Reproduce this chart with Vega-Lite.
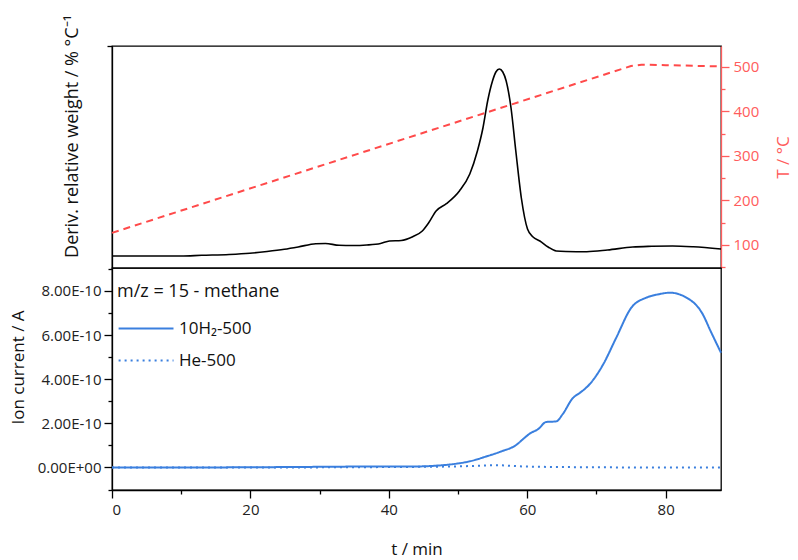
{
  "$schema": "https://vega.github.io/schema/vega-lite/v6.json",
  "padding": {"left": 8, "top": 13, "right": 0, "bottom": 0},
  "background": "white",
  "spacing": 0,
  "bounds": "flush",
  "config": {
    "font": "Open Sans",
    "view": {"stroke": "black", "strokeWidth": 1.3},
    "axis": {
      "labelFont": "Open Sans", "labelFontSize": 15, "labelColor": "#222",
      "titleFont": "Open Sans", "titleFontSize": 17, "titleFontWeight": "normal", "titleColor": "#111",
      "domainColor": "black", "tickColor": "black", "domainWidth": 1.3, "tickWidth": 1.3, "grid": false
    },
    "legend": {
      "titleFont": "Open Sans", "titleFontSize": 18, "titleFontWeight": "normal", "titleColor": "#111",
      "labelFont": "Open Sans", "labelFontSize": 17, "labelColor": "#111"
    }
  },
  "datasets": {
    "dtg": [
      {"t": 0, "w": 11}, {"t": 5, "w": 11}, {"t": 9.98, "w": 11}, {"t": 12.96, "w": 11.7},
      {"t": 16.93, "w": 12.5}, {"t": 19.91, "w": 13.7}, {"t": 22.4, "w": 15.5}, {"t": 24.9, "w": 17.7},
      {"t": 26.9, "w": 20}, {"t": 29.45, "w": 23.3}, {"t": 30.84, "w": 23.5}, {"t": 32.8, "w": 21.7},
      {"t": 34.8, "w": 21.5}, {"t": 36.8, "w": 22}, {"t": 38.8, "w": 23.5}, {"t": 40.1, "w": 26},
      {"t": 41.8, "w": 26.5}, {"t": 43.45, "w": 30.3}, {"t": 44.84, "w": 36}, {"t": 45.74, "w": 44},
      {"t": 46.83, "w": 56}, {"t": 48.32, "w": 63.3}, {"t": 50.2, "w": 76}, {"t": 51.7, "w": 93},
      {"t": 52.8, "w": 116}, {"t": 53.6, "w": 139}, {"t": 54.28, "w": 166}, {"t": 54.98, "w": 186},
      {"t": 55.47, "w": 195}, {"t": 55.97, "w": 198}, {"t": 56.47, "w": 195}, {"t": 56.96, "w": 186},
      {"t": 57.66, "w": 159}, {"t": 58.35, "w": 116}, {"t": 59.15, "w": 69}, {"t": 60.04, "w": 38},
      {"t": 60.84, "w": 30}, {"t": 61.83, "w": 26}, {"t": 63.02, "w": 20}, {"t": 64.2, "w": 16},
      {"t": 65.6, "w": 15.5}, {"t": 68.6, "w": 15.3}, {"t": 71.6, "w": 17}, {"t": 75.24, "w": 20},
      {"t": 78.0, "w": 20.7}, {"t": 81.0, "w": 21}, {"t": 84.0, "w": 20.2}, {"t": 88.0, "w": 18}
    ],
    "temp": [
      {"t": 0, "T": 127}, {"t": 75, "T": 502}, {"t": 76.5, "T": 505}, {"t": 80, "T": 504}, {"t": 88, "T": 501}
    ],
    "ms": [
      {"s": "10H₂-500", "t": 0, "I": 0}, {"s": "10H₂-500", "t": 10, "I": 0},
      {"s": "10H₂-500", "t": 20, "I": 0.01e-10}, {"s": "10H₂-500", "t": 30, "I": 0.03e-10},
      {"s": "10H₂-500", "t": 40, "I": 0.05e-10}, {"s": "10H₂-500", "t": 44.45, "I": 0.05e-10},
      {"s": "10H₂-500", "t": 46.73, "I": 0.08e-10}, {"s": "10H₂-500", "t": 49.2, "I": 0.15e-10},
      {"s": "10H₂-500", "t": 51.7, "I": 0.28e-10}, {"s": "10H₂-500", "t": 54.08, "I": 0.5e-10},
      {"s": "10H₂-500", "t": 56.17, "I": 0.72e-10}, {"s": "10H₂-500", "t": 58.45, "I": 1.03e-10},
      {"s": "10H₂-500", "t": 59.45, "I": 1.3e-10}, {"s": "10H₂-500", "t": 60.34, "I": 1.53e-10},
      {"s": "10H₂-500", "t": 61.63, "I": 1.75e-10}, {"s": "10H₂-500", "t": 62.72, "I": 2.06e-10},
      {"s": "10H₂-500", "t": 64.2, "I": 2.09e-10}, {"s": "10H₂-500", "t": 65.11, "I": 2.41e-10},
      {"s": "10H₂-500", "t": 66.6, "I": 3.15e-10}, {"s": "10H₂-500", "t": 67.6, "I": 3.38e-10},
      {"s": "10H₂-500", "t": 68.98, "I": 3.76e-10}, {"s": "10H₂-500", "t": 70.97, "I": 4.67e-10},
      {"s": "10H₂-500", "t": 72.86, "I": 5.88e-10}, {"s": "10H₂-500", "t": 75.04, "I": 7.24e-10},
      {"s": "10H₂-500", "t": 77.23, "I": 7.7e-10}, {"s": "10H₂-500", "t": 79.0, "I": 7.85e-10},
      {"s": "10H₂-500", "t": 80.6, "I": 7.92e-10}, {"s": "10H₂-500", "t": 83.0, "I": 7.7e-10},
      {"s": "10H₂-500", "t": 85.37, "I": 6.94e-10}, {"s": "10H₂-500", "t": 86.47, "I": 6.2e-10},
      {"s": "10H₂-500", "t": 88.0, "I": 5.2e-10},
      {"s": "He-500", "t": 0, "I": 0}, {"s": "He-500", "t": 20, "I": 0},
      {"s": "He-500", "t": 40, "I": 0.02e-10}, {"s": "He-500", "t": 50, "I": 0.05e-10},
      {"s": "He-500", "t": 55.6, "I": 0.1e-10}, {"s": "He-500", "t": 60, "I": 0.04e-10},
      {"s": "He-500", "t": 70, "I": 0.01e-10}, {"s": "He-500", "t": 80, "I": 0},
      {"s": "He-500", "t": 88, "I": 0}
    ]
  },
  "vconcat": [
    {
      "width": 609,
      "height": 222,
      "layer": [
        {
          "data": {"name": "dtg"},
          "mark": {"type": "line", "color": "black", "strokeWidth": 1.6, "interpolate": "monotone"},
          "encoding": {
            "x": {"field": "t", "type": "quantitative", "scale": {"domain": [0, 88], "nice": false}, "axis": null},
            "y": {
              "field": "w", "type": "quantitative",
              "scale": {"domain": [-1, 221], "nice": false, "zero": false},
              "axis": {"title": "Deriv. relative weight / % °C⁻¹", "titleFontSize": 18, "labels": false, "values": [221], "tickSize": 5, "titlePadding": 25, "titleY": 90}
            }
          }
        },
        {
          "data": {"name": "temp"},
          "mark": {"type": "line", "color": "#ff4a4a", "strokeWidth": 2, "strokeDash": [7, 5]},
          "encoding": {
            "x": {"field": "t", "type": "quantitative", "scale": {"domain": [0, 88], "nice": false}, "axis": null},
            "y": {
              "field": "T", "type": "quantitative",
              "scale": {"domain": [48, 547], "nice": false, "zero": false},
              "axis": {
                "orient": "right", "title": "T / °C", "titleAngle": 270, "titleBaseline": "top",
                "values": [50, 100, 150, 200, 250, 300, 350, 400, 450, 500],
                "labelExpr": "datum.value % 100 == 0 ? datum.label : ''",
                "labelFontSize": {"condition": {"test": "datum.value % 100 == 0", "value": 15}, "value": 0},
                "tickSize": {"condition": {"test": "datum.value % 100 == 0", "value": 8}, "value": 4},
                "labelPadding": 4,
                "domainColor": "#ff5c5c", "tickColor": "#ff5c5c", "labelColor": "#ff5c5c", "titleColor": "#ff5c5c",
                "titlePadding": 17
              }
            }
          }
        }
      ],
      "resolve": {"scale": {"y": "independent"}}
    },
    {
      "width": 609,
      "height": 222,
      "data": {"name": "ms"},
      "mark": {"type": "line", "strokeWidth": 2, "interpolate": "monotone"},
      "encoding": {
        "x": {
          "field": "t", "type": "quantitative", "scale": {"domain": [0, 88], "nice": false},
          "axis": {
            "title": "t / min",
            "values": [0, 10, 20, 30, 40, 50, 60, 70, 80],
            "labelExpr": "datum.value % 20 == 0 ? datum.label : ''",
            "tickSize": {"condition": {"test": "datum.value % 20 == 0", "value": 8}, "value": 4},
            "labelPadding": 4, "titlePadding": 24
          }
        },
        "y": {
          "field": "I", "type": "quantitative",
          "scale": {"domain": [-1.02e-10, 9.04e-10], "nice": false, "zero": false},
          "axis": {
            "title": "Ion current / A", "titleY": 99,
            "values": [-1e-10, 0, 1e-10, 2e-10, 3e-10, 4e-10, 5e-10, 6e-10, 7e-10, 8e-10, 9e-10],
            "labelExpr": "(round(datum.value*1e10) % 2 == 0 && datum.value >= 0) ? (datum.value == 0 ? '0.00E+00' : replace(format(datum.value, '.2e'), 'e', 'E')) : ''",
            "labelFontSize": {"condition": {"test": "round(datum.value*1e10) % 2 == 0 && datum.value >= 0", "value": 15}, "value": 0},
            "tickSize": {"condition": {"test": "round(datum.value*1e10) % 2 == 0", "value": 8}, "value": 4},
            "labelPadding": 3, "titlePadding": 10
          }
        },
        "color": {
          "field": "s", "type": "nominal",
          "scale": {"domain": ["10H₂-500", "He-500"], "range": ["#3a7fde", "#3a7fde"]},
          "legend": {
            "title": "m/z = 15 - methane",
            "orient": "none", "legendX": 5, "legendY": 237,
            "symbolType": "M-2.3,0H16", "symbolSize": 36, "symbolStrokeWidth": 2,
            "labelOffset": 45, "rowPadding": 14, "titlePadding": 19, "padding": 0
          }
        },
        "strokeDash": {
          "field": "s", "type": "nominal",
          "scale": {"domain": ["10H₂-500", "He-500"], "range": [[1, 0], [2, 4]]},
          "legend": {
            "title": "m/z = 15 - methane",
            "orient": "none", "legendX": 5, "legendY": 237,
            "symbolType": "M-2.3,0H16", "symbolSize": 36, "symbolStrokeWidth": 2,
            "labelOffset": 45, "rowPadding": 14, "titlePadding": 19, "padding": 0
          }
        }
      }
    }
  ]
}
